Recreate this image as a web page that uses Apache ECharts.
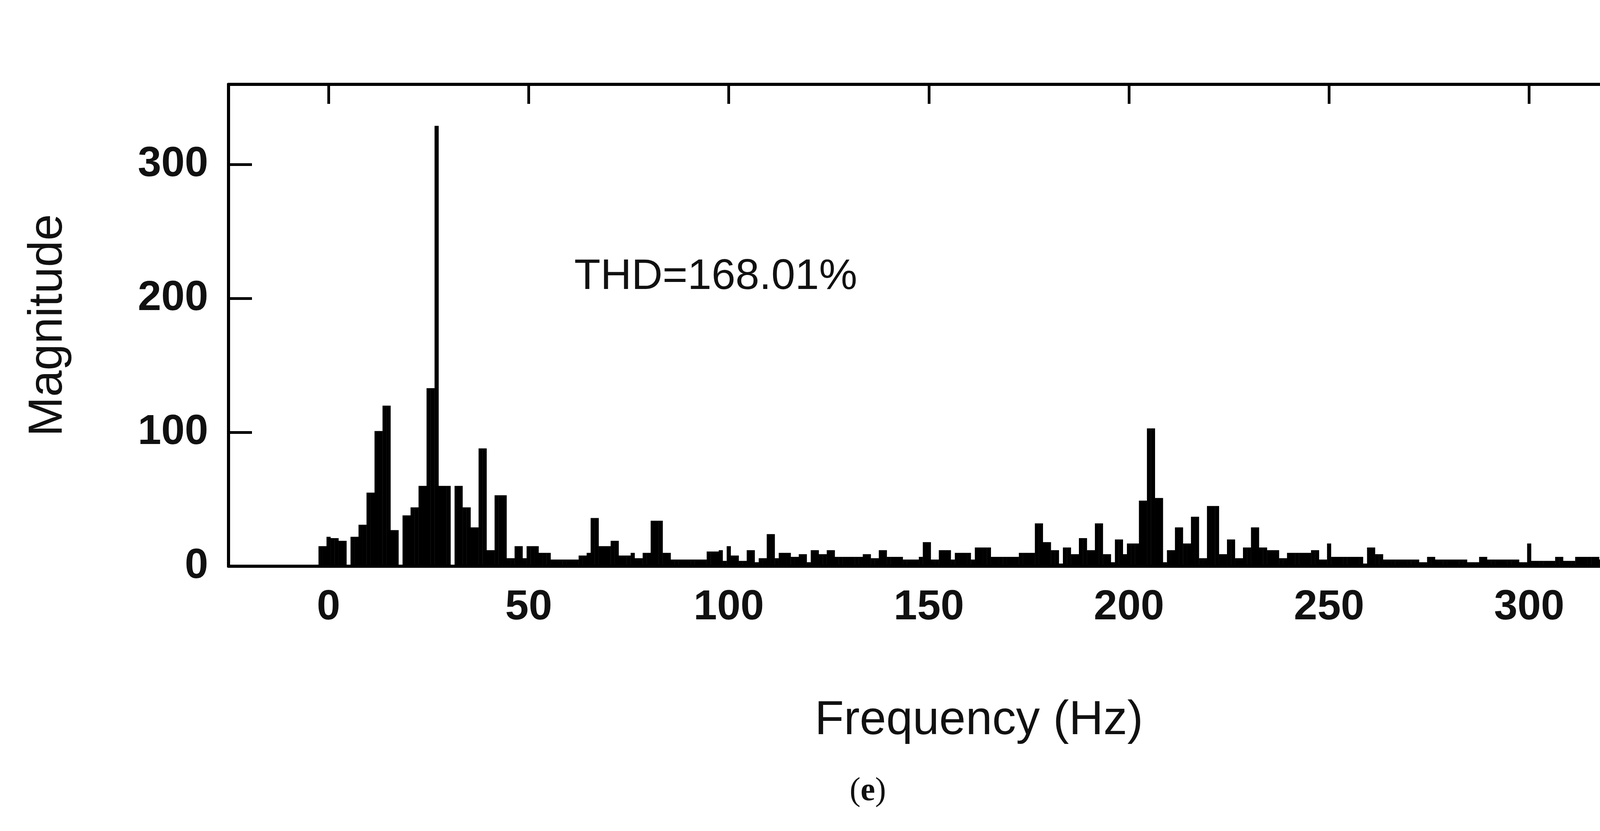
<!DOCTYPE html>
<html>
<head>
<meta charset="utf-8">
<script src="https://cdn.jsdelivr.net/npm/echarts@6/dist/echarts.min.js"></script>
<style>
  html, body { margin: 0; padding: 0; background: #fff; }
  #chart { width: 4473px; height: 2128px; }
</style>
</head>
<body>
<div id="chart"></div>
<script>
// spectrum bins, 1 Hz wide, first bin at -2 Hz
var START_HZ = -2;
var magnitude = [
  15, 15,                                   // -2..-1
  22, 21, 21, 19, 19, 0, 22, 22, 31, 31,    // 0..9
  55, 55, 101, 101, 120, 120, 27, 27, 0, 38, // 10..19
  38, 44, 44, 60, 60, 133, 133, 329, 60, 60, // 20..29
  60, 0, 60, 60, 44, 44, 29, 29, 88, 88,    // 30..39
  12, 12, 53, 53, 53, 6, 6, 15, 15, 6,      // 40..49
  15, 15, 15, 10, 10, 10, 5, 5, 5, 5,       // 50..59
  5, 5, 5, 8, 8, 10, 36, 36, 15, 15,        // 60..69
  15, 19, 19, 8, 8, 8, 10, 6, 6, 10,        // 70..79
  10, 34, 34, 34, 10, 10, 5, 5, 5, 5,       // 80..89
  5, 5, 5, 5, 5, 11, 11, 11, 12, 4,         // 90..99
  15, 8, 8, 4, 4, 12, 12, 3, 6, 6,          // 100..109
  24, 24, 6, 10, 10, 10, 7, 7, 9, 9,        // 110..119
  3, 12, 12, 9, 9, 12, 12, 7, 7, 7,         // 120..129
  7, 7, 7, 7, 9, 9, 6, 6, 12, 12,           // 130..139
  7, 7, 7, 7, 5, 5, 5, 5, 7, 18,            // 140..149
  18, 5, 5, 12, 12, 12, 5, 10, 10, 10,      // 150..159
  10, 5, 14, 14, 14, 14, 7, 7, 7, 7,        // 160..169
  7, 7, 7, 10, 10, 10, 10, 32, 32, 18,      // 170..179
  18, 12, 12, 2, 14, 14, 9, 9, 21, 21,      // 180..189
  12, 12, 32, 32, 9, 9, 3, 20, 20, 9,       // 190..199
  17, 17, 17, 49, 49, 103, 103, 51, 51, 3,  // 200..209
  12, 12, 29, 29, 17, 17, 37, 37, 6, 6,     // 210..219
  45, 45, 45, 9, 9, 20, 20, 6, 6, 14,       // 220..229
  14, 29, 29, 14, 14, 12, 12, 12, 6, 6,     // 230..239
  10, 10, 10, 10, 10, 10, 12, 12, 5, 5,     // 240..249
  17, 7, 7, 7, 7, 7, 7, 7, 7, 2,            // 250..259
  14, 14, 9, 9, 5, 5, 5, 5, 5, 5,           // 260..269
  5, 5, 5, 3, 3, 7, 7, 5, 5, 5,             // 270..279
  5, 5, 5, 5, 5, 3, 3, 3, 7, 7,             // 280..289
  5, 5, 5, 5, 5, 5, 5, 5, 3, 3,             // 290..299
  17, 4, 4, 4, 4, 4, 4, 7, 7, 4,            // 300..309
  4, 4, 7, 7, 7, 7, 7, 7, 5, 5,             // 310..319
  5, 5, 5, 5, 5, 5, 5, 5, 5, 5,             // 320..329
  5, 5, 5, 5, 5, 5, 5, 5, 5, 5,             // 330..339
  5, 5, 5, 5, 5, 5, 5, 5, 5, 5              // 340..349
];
var xTicks = [0, 50, 100, 150, 200, 250, 300];
var yTicks = [0, 100, 200, 300];

var chart = echarts.init(document.getElementById('chart'));

var barData = magnitude.map(function(v, i) {
    return [START_HZ + i, v];
});

var FONT = 'Liberation Sans, Arial, sans-serif';
var boxLine = { show: true, onZero: false, lineStyle: { color: '#000', width: 8 } };

chart.setOption({
    backgroundColor: '#fff',
    animation: false,
    grid: { left: 585, right: 46, top: 216, bottom: 678 },
    xAxis: [{
        type: 'value',
        min: -25,
        max: 350,
        position: 'bottom',
        axisLine: boxLine,
        axisTick: { show: false },
        splitLine: { show: false },
        axisLabel: {
            customValues: xTicks,
            color: '#111',
            fontFamily: FONT,
            fontWeight: 'bold',
            fontSize: 108,
            margin: 52
        },
        name: 'Frequency (Hz)',
        nameLocation: 'middle',
        nameGap: 335,
        nameTextStyle: { color: '#111', fontFamily: FONT, fontSize: 122 }
    }, {
        type: 'value',
        min: -25,
        max: 350,
        position: 'top',
        axisLine: boxLine,
        axisTick: {
            show: true, inside: true, length: 50,
            customValues: xTicks,
            lineStyle: { color: '#000', width: 7 }
        },
        axisLabel: { show: false },
        splitLine: { show: false }
    }],
    yAxis: [{
        type: 'value',
        min: 0,
        max: 360,
        position: 'left',
        axisLine: boxLine,
        axisTick: {
            show: true, inside: true, length: 60,
            customValues: yTicks,
            lineStyle: { color: '#000', width: 7 }
        },
        splitLine: { show: false },
        axisLabel: {
            customValues: yTicks,
            color: '#111',
            fontFamily: FONT,
            fontWeight: 'bold',
            fontSize: 108,
            margin: 52
        },
        name: 'Magnitude',
        nameLocation: 'middle',
        nameGap: 400,
        nameTextStyle: { color: '#111', fontFamily: FONT, fontSize: 122 }
    }, {
        type: 'value',
        min: 0,
        max: 360,
        position: 'right',
        axisLine: boxLine,
        axisTick: {
            show: true, inside: true, length: 60,
            customValues: yTicks,
            lineStyle: { color: '#000', width: 7 }
        },
        axisLabel: { show: false },
        splitLine: { show: false }
    }],
    graphic: [{
        type: 'text',
        left: 1470,
        top: 655,
        style: { text: 'THD=168.01%', fill: '#111', font: '110px ' + FONT }
    }, {
        type: 'text',
        left: 2175,
        top: 1985,
        style: {
            text: '({b|e})',
            fill: '#111',
            font: '84px "Liberation Serif", serif',
            rich: { b: { fontWeight: 'bold', fontSize: 84, fontFamily: 'Liberation Serif, serif', fill: '#111' } }
        }
    }],
    series: [{
        type: 'bar',
        xAxisIndex: 0,
        yAxisIndex: 0,
        data: barData,
        barWidth: 10.6,
        itemStyle: { color: '#000' },
        silent: true
    }]
});
</script>
</body>
</html>
